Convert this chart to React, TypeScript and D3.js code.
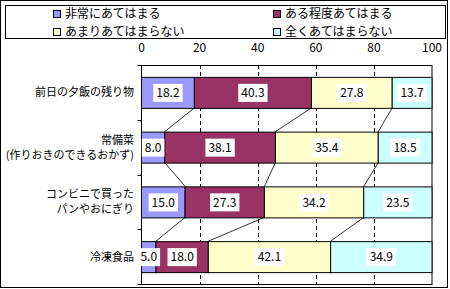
import React, { useEffect, useRef } from "react";
import * as d3 from "d3";

const categories = [
  "前日の夕飯の残り物",
  "常備菜\n(作りおきのできるおかず)",
  "コンビニで買った\nパンやおにぎり",
  "冷凍食品",
];
const seriesNames = ["非常にあてはまる", "ある程度あてはまる", "あまりあてはまらない", "全くあてはまらない"];
const veryMuch = [18.2, 8.0, 15.0, 5.0];
const somewhat = [40.3, 38.1, 27.3, 18.0];
const notMuch = [27.8, 35.4, 34.2, 42.1];
const notAtAll = [13.7, 18.5, 23.5, 34.9];
const xTicks = [0, 20, 40, 60, 80, 100];
const colors = ["#9999ff", "#993366", "#ffffcc", "#ccffff"];

const W = 450;
const H = 289;
const FONT = "'Noto Sans CJK JP', sans-serif";

export default function App() {
  const ref = useRef<SVGSVGElement>(null);

  useEffect(() => {
    const svg = d3.select(ref.current);
    svg.selectAll("*").remove();
    const series = [veryMuch, somewhat, notMuch, notAtAll];

    const x = d3.scaleLinear().domain([0, 100]).range([141.5, 432]);
    const y = d3
      .scaleBand<number>()
      .domain(d3.range(categories.length))
      .range([65, 284])
      .paddingInner(0.434)
      .paddingOuter(0.217);

    // outer frame
    svg.append("rect").attr("x", 0.5).attr("y", 0.5).attr("width", 447).attr("height", 287)
      .attr("fill", "white").attr("stroke", "black");

    // legend
    svg.append("rect").attr("x", 5.5).attr("y", 5.5).attr("width", 440).attr("height", 33)
      .attr("fill", "white").attr("stroke", "black");
    const legend = svg.selectAll("g.leg").data(seriesNames).enter().append("g")
      .attr("transform", (d, i) => `translate(${i % 2 === 0 ? 53 : 273},${i < 2 ? 14 : 32})`);
    legend.append("rect").attr("x", 0.5).attr("y", -3.5).attr("width", 7).attr("height", 7)
      .attr("fill", (d, i) => colors[i]).attr("stroke", "black");
    legend.append("text").attr("x", 12).attr("dy", "0.36em").attr("font-size", 12)
      .attr("font-family", FONT).text(d => d);

    // plot area
    const [y0, y1] = y.range();
    svg.append("rect").attr("x", x(0)).attr("y", y0 + 0.5).attr("width", x(100) - x(0)).attr("height", y1 - y0)
      .attr("fill", "white").attr("stroke", "black");

    svg.selectAll("line.grid").data(xTicks.slice(1, -1)).enter().append("line")
      .attr("x1", d => Math.round(x(d)) + 0.5).attr("x2", d => Math.round(x(d)) + 0.5)
      .attr("y1", y0).attr("y2", y1)
      .attr("stroke", "black").attr("stroke-dasharray", "4,3");

    // x tick labels
    svg.selectAll("text.xt").data(xTicks).enter().append("text")
      .attr("x", d => x(d)).attr("y", 48).attr("dy", "0.36em").attr("text-anchor", "middle")
      .attr("font-size", 12).attr("font-family", FONT).text(d => d);

    // left axis ticks at category boundaries
    const step = y.step();
    svg.selectAll("line.yt").data(d3.range(categories.length + 1)).enter().append("line")
      .attr("x1", x(0) - 4).attr("x2", x(0))
      .attr("y1", d => Math.round(y0 + d * step) + 0.5).attr("y2", d => Math.round(y0 + d * step) + 0.5)
      .attr("stroke", "black");

    // stacked data
    const cum = categories.map((c, i) => {
      let s = 0;
      return series.map(v => {
        const start = s;
        s += v[i];
        return [start, s];
      });
    });

    // series lines
    for (let i = 0; i < categories.length - 1; i++) {
      for (let k = 0; k < 3; k++) {
        svg.append("line")
          .attr("x1", x(cum[i][k][1])).attr("y1", (y(i) as number) + y.bandwidth())
          .attr("x2", x(cum[i + 1][k][1])).attr("y2", y(i + 1) as number)
          .attr("stroke", "black").attr("stroke-width", 0.8);
      }
    }

    // bars
    cum.forEach((segs, i) => {
      const g = svg.append("g");
      segs.forEach(([a, b], k) => {
        g.append("rect")
          .attr("x", x(a)).attr("y", (y(i) as number) + 0.5)
          .attr("width", x(b) - x(a)).attr("height", y.bandwidth())
          .attr("fill", colors[k]).attr("stroke", "black");
      });
      segs.forEach(([a, b], k) => {
        const cx = (x(a) + x(b)) / 2;
        const cy = (y(i) as number) + y.bandwidth() / 2 + 0.5;
        const bg = g.append("rect").attr("fill", "white");
        const t = g.append("text").attr("x", cx).attr("y", cy).attr("dy", "0.36em")
          .attr("text-anchor", "middle").attr("font-size", 12).attr("font-family", FONT)
          .text(d3.format(".1f")(series[k][i]));
        const w = (t.node() as SVGTextElement).getComputedTextLength();
        bg.attr("x", cx - w / 2 - 3).attr("y", cy - 9).attr("width", w + 6).attr("height", 18);
      });
    });

    // category labels
    categories.forEach((c, i) => {
      const lines = c.split("\n");
      const cy = (y(i) as number) + y.bandwidth() / 2;
      lines.forEach((l, j) => {
        svg.append("text").attr("text-anchor", "end").attr("font-size", 11).attr("font-family", FONT)
          .attr("x", 134)
          .attr("y", cy + (j - (lines.length - 1) / 2) * 15)
          .attr("dy", "0.36em").text(l);
      });
    });
  }, []);

  return <svg ref={ref} width={W} height={H} style={{ position: "absolute", left: 0, top: 0 }} />;
}
